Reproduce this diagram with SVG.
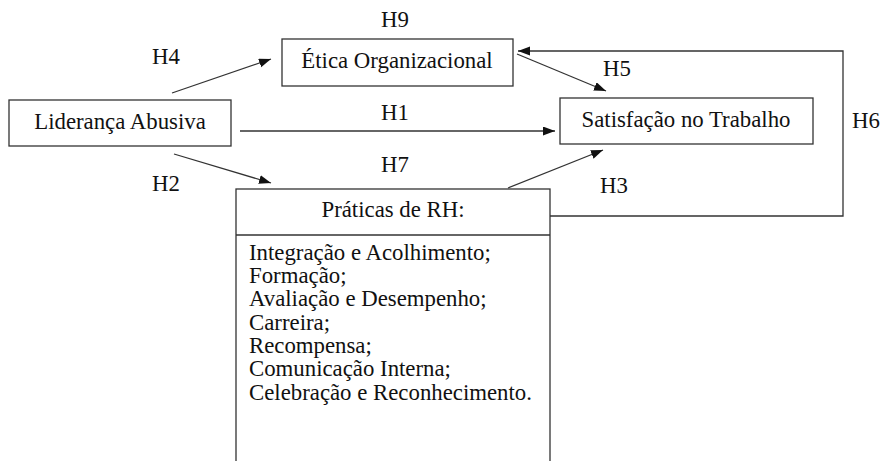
<svg xmlns="http://www.w3.org/2000/svg" width="882" height="461" viewBox="0 0 882 461">
<style>
text{font-family:"Liberation Serif","Times New Roman",serif;font-size:22.8px;fill:#111}
.c{text-anchor:middle}
.box{fill:#fff;stroke:#333;stroke-width:1.3}
.ln{fill:none;stroke:#333;stroke-width:1.3}
</style>
<defs>
<marker id="ah" markerUnits="userSpaceOnUse" markerWidth="13" markerHeight="10" refX="12" refY="4.5" orient="auto">
<path d="M0,0 L12,4.5 L0,9 z" fill="#111"/>
</marker>
</defs>
<rect width="882" height="461" fill="#fff"/>
<g id="connectors">
<line class="ln" x1="172" y1="93" x2="271" y2="59" marker-end="url(#ah)"/>
<line class="ln" x1="240" y1="131" x2="555" y2="131" marker-end="url(#ah)"/>
<line class="ln" x1="174" y1="154" x2="271" y2="183" marker-end="url(#ah)"/>
<line class="ln" x1="517" y1="54" x2="606" y2="91" marker-end="url(#ah)"/>
<line class="ln" x1="508" y1="188" x2="603" y2="150" marker-end="url(#ah)"/>
<polyline class="ln" points="550,216 843,216 843,51 518,51" marker-end="url(#ah)"/>
<text class="c" x="166" y="64">H4</text>
<text class="c" x="395" y="27">H9</text>
<text class="c" x="617" y="76">H5</text>
<text class="c" x="395" y="120">H1</text>
<text class="c" x="866" y="128">H6</text>
<text class="c" x="166" y="191">H2</text>
<text class="c" x="395" y="172">H7</text>
<text class="c" x="614" y="193">H3</text>
</g>
<g id="lideranca">
<rect class="box" x="9" y="100" width="222" height="46"/>
<text class="c" x="120" y="129">Liderança Abusiva</text>
</g>
<g id="etica">
<rect class="box" x="282" y="39" width="231" height="47"/>
<text class="c" x="397" y="68">Ética Organizacional</text>
</g>
<g id="satisfacao">
<rect class="box" x="560" y="98" width="253" height="46"/>
<text class="c" x="686" y="127">Satisfação no Trabalho</text>
</g>
<g id="praticas">
<rect class="box" x="236" y="189" width="314" height="290"/>
<line class="ln" x1="236" y1="235" x2="550" y2="235"/>
<text class="c" x="393" y="217">Práticas de RH:</text>
<text x="249" y="260">Integração e Acolhimento;</text>
<text x="249" y="283">Formação;</text>
<text x="249" y="306">Avaliação e Desempenho;</text>
<text x="249" y="330">Carreira;</text>
<text x="249" y="353">Recompensa;</text>
<text x="249" y="376">Comunicação Interna;</text>
<text x="249" y="400">Celebração e Reconhecimento.</text>
</g>
</svg>
